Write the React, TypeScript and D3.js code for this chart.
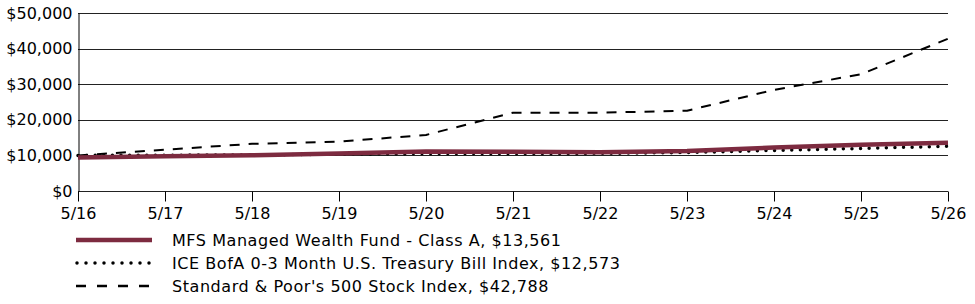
import React, { useEffect, useRef } from 'react';
import { select, scaleLinear, scalePoint, axisLeft, axisBottom, line } from 'd3';

const years = ['5/16', '5/17', '5/18', '5/19', '5/20', '5/21', '5/22', '5/23', '5/24', '5/25', '5/26'];
const mfsValues = [9425, 9760, 10050, 10500, 11100, 11050, 10850, 11250, 12200, 13000, 13561];
const tbillValues = [10000, 10050, 10150, 10330, 10550, 10560, 10570, 10800, 11400, 11950, 12573];
const spValues = [10000, 11600, 13250, 13850, 15750, 22000, 22000, 22550, 28400, 32800, 42788];
const yTicks = [0, 10000, 20000, 30000, 40000, 50000];
const legendLabels = [
  'MFS Managed Wealth Fund - Class A, $13,561',
  'ICE BofA 0-3 Month U.S. Treasury Bill Index, $12,573',
  "Standard & Poor's 500 Stock Index, $42,788"
];

const width = 975;
const height = 304;
const margin = { top: 13, right: 27, bottom: 113, left: 78 };
const font = '"DejaVu Sans", Verdana, sans-serif';

const seriesStyles = [
  { color: '#7d2b40', width: 4.5, dash: null, cap: 'butt' },
  { color: '#000', width: 3.5, dash: '0,8.6', cap: 'round' },
  { color: '#000', width: 2, dash: '10,9', cap: 'butt' }
];

function App() {
  const ref = useRef<SVGSVGElement>(null);

  useEffect(() => {
    const svg = select(ref.current);
    svg.selectAll('*').remove();

    const x = scalePoint<string>()
      .domain(years)
      .range([margin.left, width - margin.right]);
    const y = scaleLinear()
      .domain([0, 50000])
      .range([height - margin.bottom, margin.top]);

    // gridlines
    svg.append('g')
      .selectAll('line')
      .data(yTicks)
      .enter()
      .append('line')
      .attr('x1', margin.left)
      .attr('x2', width - margin.right)
      .attr('y1', d => Math.round(y(d)) + 0.5)
      .attr('y2', d => Math.round(y(d)) + 0.5)
      .attr('stroke', '#222')
      .attr('stroke-width', 1);

    // y axis
    const gy = svg.append('g')
      .attr('transform', `translate(${margin.left + 0.5},0)`)
      .call(
        axisLeft(y)
          .tickValues(yTicks)
          .tickSize(0)
          .tickPadding(6)
          .tickFormat(d => '$' + (d as number).toLocaleString('en-US'))
      );
    gy.select('.domain').attr('stroke', '#000');
    gy.selectAll('text')
      .attr('font-family', font)
      .attr('font-size', 16)
      .attr('fill', '#000');

    // x axis
    const gx = svg.append('g')
      .attr('transform', `translate(0,${Math.round(y(0)) + 0.5})`)
      .call(axisBottom(x).tickSize(10).tickPadding(6));
    gx.select('.domain').remove();
    gx.selectAll('line').attr('stroke', '#000');
    gx.selectAll('text')
      .attr('font-family', font)
      .attr('font-size', 16)
      .attr('fill', '#000');

    const series = [mfsValues, tbillValues, spValues];
    const lineGen = line<number>()
      .x((d, i) => x(years[i]) as number)
      .y(d => y(d));

    // draw S&P first, then T-bill, then fund on top
    [2, 1, 0].forEach(k => {
      const s = seriesStyles[k];
      const p = svg.append('path')
        .datum(series[k])
        .attr('d', lineGen)
        .attr('fill', 'none')
        .attr('stroke', s.color)
        .attr('stroke-width', s.width)
        .attr('stroke-linecap', s.cap)
        .attr('stroke-linejoin', 'round');
      if (s.dash) p.attr('stroke-dasharray', s.dash);
    });

    // legend
    const legend = svg.append('g');
    legendLabels.forEach((label, i) => {
      const cy = 240 + i * 23;
      const s = seriesStyles[i];
      const l = legend.append('line')
        .attr('x1', i === 1 ? 77 : 76)
        .attr('x2', 152)
        .attr('y1', cy)
        .attr('y2', cy)
        .attr('stroke', s.color)
        .attr('stroke-width', i === 2 ? 2.5 : s.width)
        .attr('stroke-linecap', s.cap);
      if (i === 1) l.attr('stroke-dasharray', '0,9');
      if (i === 2) l.attr('stroke-dasharray', '10,11');
      legend.append('text')
        .attr('x', 172)
        .attr('y', cy + 6)
        .attr('font-family', font)
        .attr('font-size', 16)
        .attr('letter-spacing', 0.55)
        .attr('fill', '#000')
        .text(label);
    });
  });

  return (
    <div style={{ position: 'absolute', left: 0, top: 0 }}>
      <svg ref={ref} width={width} height={height} style={{ display: 'block', background: '#fff' }} />
    </div>
  );
}

export default App;
